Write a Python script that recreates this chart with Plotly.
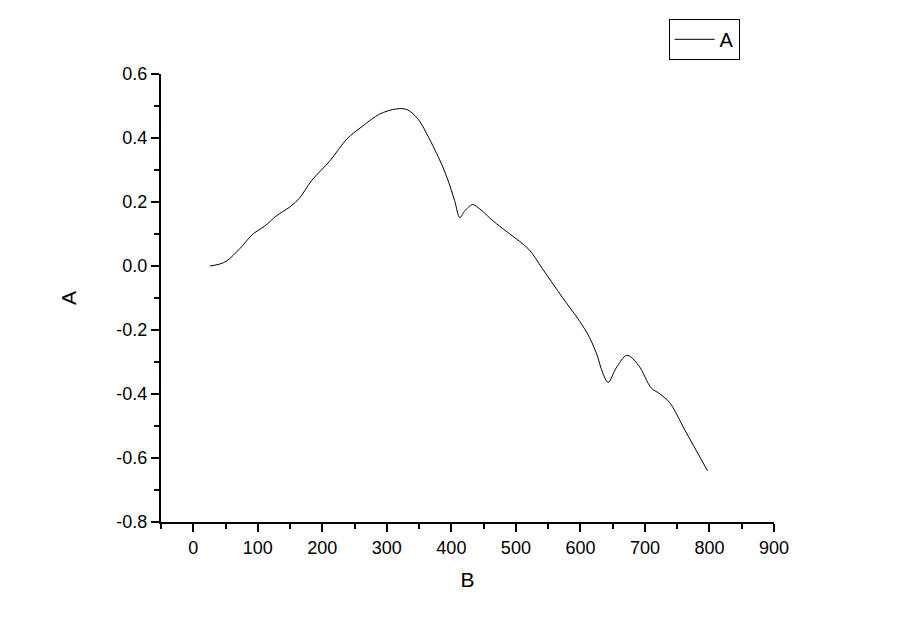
import plotly.graph_objects as go

# Data
b_values = [26, 41, 52, 72, 93, 111, 129, 150, 165, 183, 212, 238, 263, 289, 315, 331,
            348, 366, 386, 394, 405, 413, 420, 433, 446, 459, 470, 490, 520, 541, 572,
            598, 614, 627, 632, 643, 655, 672, 690, 710, 722, 738, 762, 797]
a_values = [0.0, 0.006, 0.016, 0.054, 0.101, 0.125, 0.157, 0.185, 0.213, 0.266, 0.329,
            0.397, 0.438, 0.475, 0.491, 0.489, 0.46, 0.397, 0.313, 0.272, 0.205, 0.151,
            0.17, 0.192, 0.175, 0.151, 0.132, 0.101, 0.052, -0.008, -0.098, -0.17,
            -0.223, -0.285, -0.32, -0.364, -0.32, -0.279, -0.31, -0.382, -0.398,
            -0.426, -0.513, -0.64]

x_ticks = [0, 100, 200, 300, 400, 500, 600, 700, 800, 900]
y_ticks = [-0.8, -0.6, -0.4, -0.2, 0.0, 0.2, 0.4, 0.6]
y_labels = ["-0.8", "-0.6", "-0.4", "-0.2", "0.0", "0.2", "0.4", "0.6"]

font_family = "Liberation Sans, Arial, sans-serif"

fig = go.Figure()
fig.add_trace(go.Scatter(
    x=b_values, y=a_values, mode="lines", name="A",
    line=dict(color="black", width=1, shape="spline", smoothing=0.9),
))

fig.update_layout(
    width=900, height=627,
    margin=dict(l=153, r=134, t=65, b=113),
    paper_bgcolor="white", plot_bgcolor="white",
    font=dict(family=font_family, size=18, color="black"),
    showlegend=True,
    legend=dict(
        x=0.886, y=1.075, xanchor="center", yanchor="middle",
        bordercolor="black", borderwidth=1, bgcolor="white",
        font=dict(size=20, family=font_family),
        tracegroupgap=0, itemwidth=40,
    ),
    xaxis=dict(
        range=[-50, 900], tickvals=x_ticks, ticktext=[str(v) for v in x_ticks],
        showgrid=False, zeroline=False, showline=True, linecolor="black", linewidth=2,
        ticks="outside", ticklen=8, tickwidth=2, tickcolor="black",
        minor=dict(ticks="outside", ticklen=5, tickwidth=2, tickcolor="black",
                   tickvals=[-50, 50, 150, 250, 350, 450, 550, 650, 750, 850], showgrid=False),
        title=dict(text="B", font=dict(size=21), standoff=16),
    ),
    yaxis=dict(
        range=[-0.8, 0.6], tickvals=y_ticks, ticktext=y_labels,
        showgrid=False, zeroline=False, showline=True, linecolor="black", linewidth=2,
        ticks="outside", ticklen=8, tickwidth=2, tickcolor="black",
        minor=dict(ticks="outside", ticklen=5, tickwidth=2, tickcolor="black",
                   tickvals=[-0.7, -0.5, -0.3, -0.1, 0.1, 0.3, 0.5], showgrid=False),
        title=dict(text="A", font=dict(size=21), standoff=34),
    ),
)

fig.write_html("out.html")
